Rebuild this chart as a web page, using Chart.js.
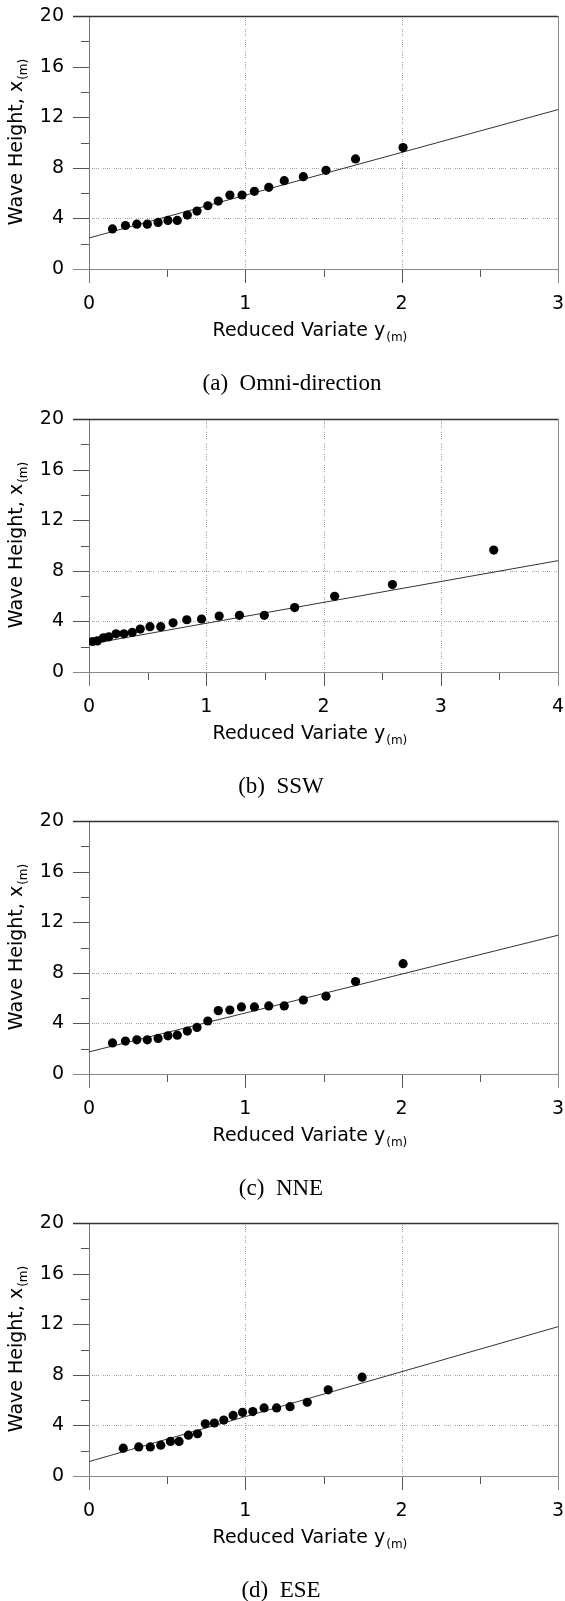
<!DOCTYPE html>
<html>
<head>
<title>Wave Height vs Reduced Variate</title>
<script src="https://cdn.jsdelivr.net/npm/chart.js"></script>
<style>
  body { margin: 0; background: #fff; width: 565px; height: 1601px; overflow: hidden; position: relative; }
  canvas { position: absolute; left: 0; }
</style>
</head>
<body>
<canvas id="chartA" width="565" height="402" style="top:0px"></canvas>
<canvas id="chartB" width="565" height="402" style="top:403px"></canvas>
<canvas id="chartC" width="565" height="402" style="top:805px"></canvas>
<canvas id="chartD" width="565" height="402" style="top:1207px"></canvas>
<script>
// (a) Omni-direction
const omniVariate = [0.15, 0.233, 0.306, 0.373, 0.442, 0.505, 0.565, 0.629, 0.691, 0.76, 0.827, 0.901, 0.979, 1.058, 1.15, 1.249, 1.371, 1.516, 1.705, 2.009];
const omniHeight  = [3.17, 3.44, 3.54, 3.54, 3.68, 3.84, 3.84, 4.26, 4.58, 5.0, 5.37, 5.85, 5.85, 6.14, 6.46, 6.98, 7.30, 7.80, 8.70, 9.60];
const omniFitVariate = [0, 3];
const omniFitHeight  = [2.45, 12.6];

// (b) SSW
const sswVariate = [0.031, 0.071, 0.123, 0.169, 0.231, 0.298, 0.369, 0.437, 0.52, 0.612, 0.717, 0.834, 0.96, 1.11, 1.283, 1.495, 1.754, 2.095, 2.588, 3.452];
const sswHeight  = [2.41, 2.46, 2.70, 2.78, 3.02, 3.02, 3.13, 3.39, 3.58, 3.58, 3.89, 4.13, 4.19, 4.42, 4.48, 4.48, 5.09, 5.99, 6.91, 9.64];
const sswFitVariate = [0, 4];
const sswFitHeight  = [2.2, 8.8];

// (c) NNE
const nneVariate = [0.15, 0.233, 0.306, 0.373, 0.442, 0.505, 0.565, 0.629, 0.691, 0.76, 0.827, 0.901, 0.975, 1.058, 1.15, 1.249, 1.371, 1.516, 1.705, 2.009];
const nneHeight  = [2.46, 2.60, 2.70, 2.70, 2.81, 3.02, 3.07, 3.39, 3.68, 4.19, 5.01, 5.06, 5.30, 5.30, 5.38, 5.38, 5.85, 6.15, 7.31, 8.72];
const nneFitVariate = [0, 3];
const nneFitHeight  = [1.75, 10.97];

// (d) ESE
const eseVariate = [0.219, 0.318, 0.392, 0.459, 0.521, 0.576, 0.636, 0.694, 0.744, 0.802, 0.862, 0.922, 0.982, 1.048, 1.12, 1.2, 1.286, 1.396, 1.53, 1.747];
const eseHeight  = [2.20, 2.30, 2.30, 2.44, 2.73, 2.73, 3.23, 3.34, 4.13, 4.19, 4.42, 4.79, 5.03, 5.09, 5.38, 5.38, 5.48, 5.83, 6.81, 7.81];
const eseFitVariate = [0, 3];
const eseFitHeight  = [1.14, 11.8];

// axes
const heightTicks = [0, 4, 8, 12, 16, 20];
const heightGrid = [4, 8];

Chart.defaults.font.family = "'DejaVu Sans', 'Liberation Sans', sans-serif";
Chart.defaults.color = '#000';

function pts(xs, ys) {
  return xs.map((v, i) => ({ x: v, y: ys[i] }));
}

function line(ctx, x1, y1, x2, y2) {
  ctx.beginPath();
  ctx.moveTo(x1, y1);
  ctx.lineTo(x2, y2);
  ctx.stroke();
}

// axis frame, ticks and dotted grid, drawn from the chart's scales
const frame = {
  id: 'frame',
  beforeDatasetsDraw(chart, args, opts) {
    const { ctx, chartArea: a, scales: { x, y } } = chart;
    const px = v => Math.round(x.getPixelForValue(v)) + 0.5;
    const py = v => Math.round(y.getPixelForValue(v)) + 0.5;
    ctx.save();
    ctx.lineWidth = 1;

    // dotted grid
    ctx.strokeStyle = '#a0a0a0';
    ctx.setLineDash([1, 1, 1, 1, 1, 1, 1, 4]);
    opts.gridY.forEach(v => line(ctx, a.left + 3, py(v), a.right, py(v)));
    opts.gridX.forEach(v => line(ctx, px(v), a.top + 2, px(v), a.bottom));
    ctx.setLineDash([]);

    // ticks
    ctx.strokeStyle = '#555';
    y.ticks.forEach(t => {
      const len = t.value % 4 === 0 ? 16 : 8;
      line(ctx, a.left - len, py(t.value), a.left, py(t.value));
    });
    x.ticks.forEach(t => {
      const len = Number.isInteger(t.value) ? 14 : 8;
      line(ctx, px(t.value), a.bottom, px(t.value), a.bottom + len);
    });

    // axis lines
    ctx.strokeStyle = '#777';
    line(ctx, px(x.min), a.top, px(x.min), a.bottom + 14);
    ctx.strokeStyle = '#8a8a8a';
    line(ctx, a.left - 16, py(0), a.right, py(0));
    line(ctx, px(x.max), a.top, px(x.max), a.bottom + 14);
    ctx.strokeStyle = '#333';
    ctx.lineWidth = 1.4;
    line(ctx, a.left - 16, py(y.max), a.right, py(y.max));
    ctx.restore();
  },
  afterDraw(chart, args, opts) {
    const { ctx, chartArea: a } = chart;
    ctx.save();
    ctx.fillStyle = '#000';
    ctx.textBaseline = 'alphabetic';

    // x title with subscript
    const mainFont = "19px 'DejaVu Sans'";
    const subFont = "12px 'DejaVu Sans'";
    ctx.font = mainFont;
    const xt = 'Reduced Variate y';
    const w1 = ctx.measureText(xt).width;
    ctx.font = subFont;
    const w2 = ctx.measureText('(m)').width;
    let sx = a.left + 0.47 * (a.right - a.left) - (w1 + w2) / 2;
    const base = a.bottom + 67;
    ctx.font = mainFont;
    ctx.fillText(xt, sx, base);
    ctx.font = subFont;
    ctx.fillText('(m)', sx + w1 + 1, base + 5);

    // y title, rotated, with subscript
    ctx.font = mainFont;
    const yt = 'Wave Height, x';
    const h1 = ctx.measureText(yt).width;
    ctx.font = subFont;
    const h2 = ctx.measureText('(m)').width;
    ctx.translate(22, (a.top + a.bottom) / 2);
    ctx.rotate(-Math.PI / 2);
    const sy = -(h1 + h2) / 2;
    ctx.font = mainFont;
    ctx.fillText(yt, sy, 0);
    ctx.font = subFont;
    ctx.fillText('(m)', sy + h1 + 1, 5);
    ctx.setTransform(1, 0, 0, 1, 0, 0);

    // caption
    ctx.font = "23px 'Liberation Serif'";
    ctx.textAlign = 'center';
    ctx.fillText(opts.caption, opts.captionX, 390);
    ctx.restore();
  }
};

function makeChart(id, variate, height, fitVariate, fitHeight, xMax, gridX, caption, captionX) {
  return new Chart(document.getElementById(id), {
    type: 'scatter',
    data: {
      datasets: [
        {
          data: pts(variate, height),
          pointRadius: 4.6,
          pointBackgroundColor: '#000',
          pointBorderWidth: 0,
          order: 0
        },
        {
          data: pts(fitVariate, fitHeight),
          showLine: true,
          pointRadius: 0,
          borderColor: '#333',
          borderWidth: 1,
          order: 1
        }
      ]
    },
    options: {
      responsive: false,
      animation: false,
      layout: { padding: { top: 16, right: 7, left: 0, bottom: 0 } },
      plugins: {
        legend: { display: false },
        tooltip: { enabled: false },
        frame: { gridX: gridX, gridY: heightGrid, caption: caption, captionX: captionX }
      },
      scales: {
        x: {
          type: 'linear',
          min: 0,
          max: xMax,
          grid: { display: false, drawTicks: true, tickLength: 24 },
          border: { display: false },
          afterFit: s => { s.height = 133; },
          ticks: {
            stepSize: 0.5,
            autoSkip: false,
            maxRotation: 0,
            padding: 0,
            font: { size: 19 },
            callback: v => Number.isInteger(v) ? String(v) : ''
          }
        },
        y: {
          min: 0,
          max: 20,
          grid: { display: false, drawTicks: true, tickLength: 25 },
          border: { display: false },
          afterFit: s => { s.width = 89; },
          ticks: {
            stepSize: 2,
            autoSkip: false,
            padding: 0,
            font: { size: 19 },
            callback: v => heightTicks.includes(v) ? String(v) : ''
          }
        }
      }
    },
    plugins: [frame]
  });
}

makeChart('chartA', omniVariate, omniHeight, omniFitVariate, omniFitHeight, 3, [1, 2], '(a)  Omni-direction', 292);
makeChart('chartB', sswVariate, sswHeight, sswFitVariate, sswFitHeight, 4, [1, 2, 3], '(b)  SSW', 281);
makeChart('chartC', nneVariate, nneHeight, nneFitVariate, nneFitHeight, 3, [], '(c)  NNE', 281);
makeChart('chartD', eseVariate, eseHeight, eseFitVariate, eseFitHeight, 3, [1, 2], '(d)  ESE', 281);
</script>
</body>
</html>
